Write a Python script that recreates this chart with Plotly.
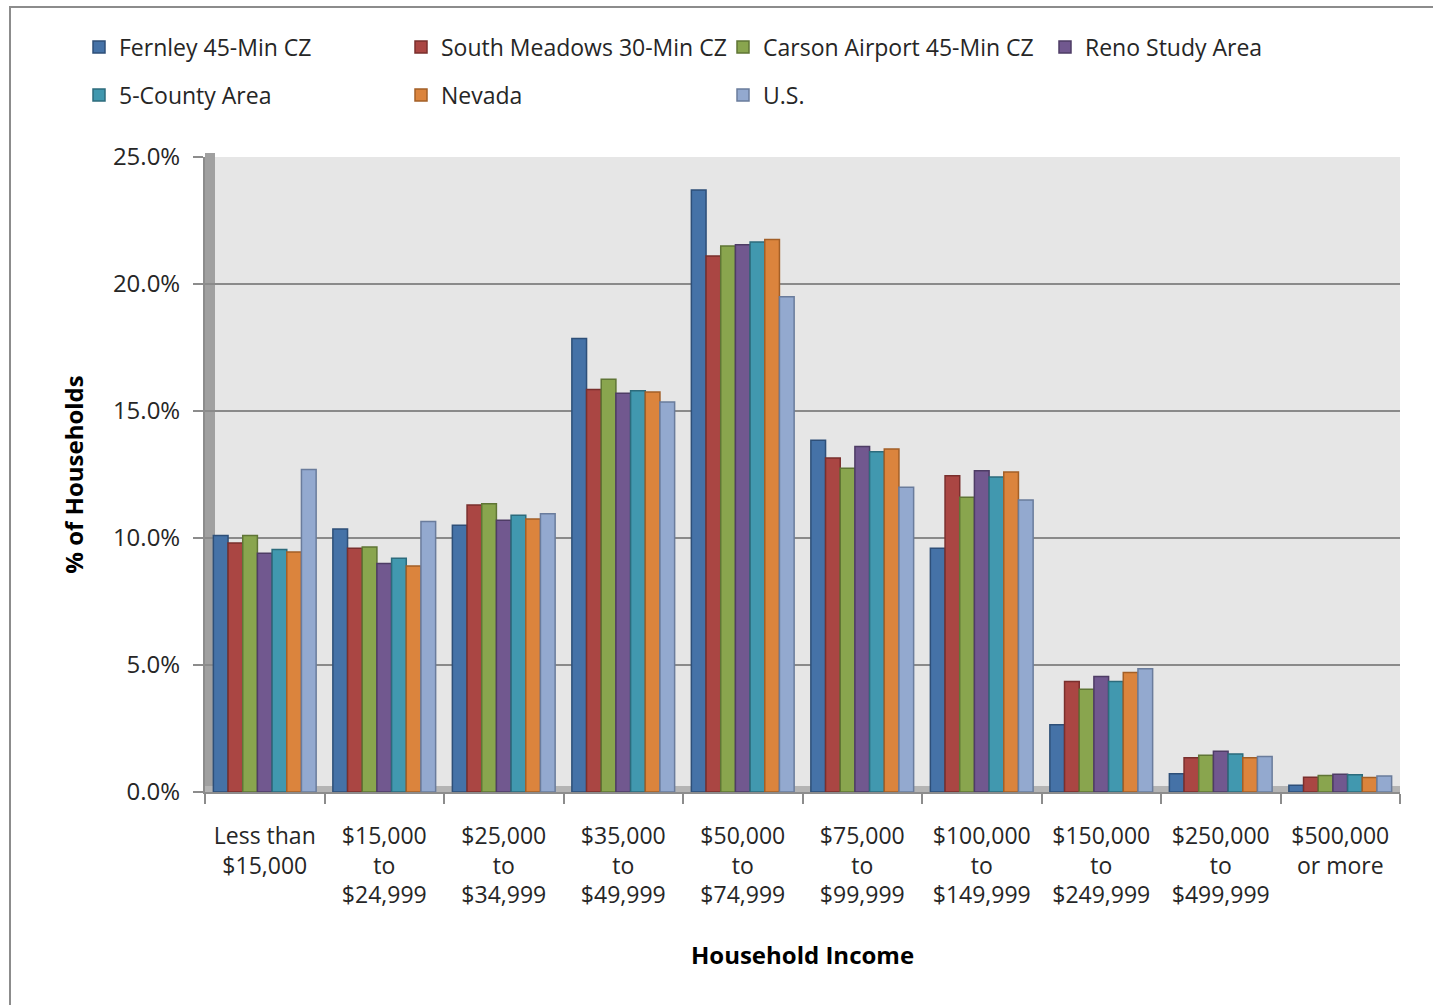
import plotly.graph_objects as go

categories = ["Less than<br>$15,000", "$15,000<br>to<br>$24,999", "$25,000<br>to<br>$34,999",
              "$35,000<br>to<br>$49,999", "$50,000<br>to<br>$74,999", "$75,000<br>to<br>$99,999",
              "$100,000<br>to<br>$149,999", "$150,000<br>to<br>$249,999", "$250,000<br>to<br>$499,999",
              "$500,000<br>or more"]

fernley = [10.1, 10.35, 10.5, 17.85, 23.7, 13.85, 9.6, 2.65, 0.72, 0.27]
south_meadows = [9.8, 9.6, 11.3, 15.85, 21.1, 13.15, 12.45, 4.35, 1.35, 0.58]
carson = [10.1, 9.65, 11.35, 16.25, 21.5, 12.75, 11.6, 4.05, 1.45, 0.65]
reno = [9.4, 9.0, 10.7, 15.7, 21.55, 13.6, 12.65, 4.55, 1.6, 0.7]
five_county = [9.55, 9.2, 10.9, 15.8, 21.65, 13.4, 12.4, 4.35, 1.5, 0.68]
nevada = [9.45, 8.9, 10.75, 15.75, 21.75, 13.5, 12.6, 4.7, 1.35, 0.57]
us = [12.7, 10.65, 10.95, 15.35, 19.5, 12.0, 11.5, 4.85, 1.4, 0.63]

series_names = ["Fernley 45-Min CZ", "South Meadows 30-Min CZ", "Carson Airport 45-Min CZ",
                "Reno Study Area", "5-County Area", "Nevada", "U.S."]
series_values = [fernley, south_meadows, carson, reno, five_county, nevada, us]
series_colors = ["#4572A7", "#AA4643", "#89A54E", "#71588F", "#4198AF", "#DB843D", "#93A9CF"]
series_edges = ["#2E4F78", "#7A2F2D", "#5F7535", "#4E3C65", "#2C6B7C", "#A35F27", "#6A7C9C"]
series_legend = ["legend", "legend", "legend", "legend3", "legend2", "legend2", "legend2"]

FONT = "Open Sans"
TXT = "#262626"

fig = go.Figure()
for name, vals, col, edge, lg in zip(series_names, series_values, series_colors, series_edges, series_legend):
    fig.add_trace(go.Bar(
        name=name, x=categories, y=vals,
        marker=dict(color=col, line=dict(color=edge, width=1.5)),
        legend=lg,
    ))

L, R, T, B = 205, 1400, 157, 792
W, H = 1433, 1005
pw, ph = R - L, B - T

def px(x):
    return (x - L) / pw

def py(y):
    return (B - y) / ph

shapes = [
    # outer border
    dict(type="rect", xref="paper", yref="paper", x0=px(10), x1=px(1445), y0=py(1015), y1=py(7),
         line=dict(color="#8C8C8C", width=2), fillcolor="rgba(0,0,0,0)", layer="below"),
    # left side wall
    dict(type="rect", xref="paper", yref="paper", x0=0, x1=px(215), y0=py(794), y1=py(153),
         line=dict(width=0), fillcolor="#A0A0A0", layer="below"),
    # floor
    dict(type="rect", xref="paper", yref="paper", x0=0, x1=1, y0=0, y1=py(786),
         line=dict(width=0), fillcolor="#B4B4B4", layer="below"),
]

legend_common = dict(
    orientation="h", xref="container", yref="container", xanchor="left", yanchor="middle",
    entrywidth=277, entrywidthmode="pixels", font=dict(family=FONT, size=23, color=TXT),
    bgcolor="rgba(0,0,0,0)", itemclick=False, traceorder="normal",
)

fig.update_layout(
    width=W, height=H,
    margin=dict(l=L, r=W - R, t=T, b=H - B, autoexpand=False),
    paper_bgcolor="white", plot_bgcolor="#E6E6E6",
    barmode="group", bargap=0.14, bargroupgap=0.0,
    font=dict(family=FONT, size=23, color=TXT),
    showlegend=True,
    legend=dict(x=79 / W, y=1 - 47 / H, **legend_common),
    legend2=dict(x=79 / W, y=1 - 95 / H, **legend_common),
    legend3=dict(x=1045 / W, y=1 - 47 / H, **legend_common),
    shapes=shapes,
    xaxis=dict(
        showgrid=False, showline=True, linecolor="#8C8C8C", linewidth=2,
        ticks="outside", tickson="boundaries", ticklen=10, tickcolor="#8C8C8C", tickwidth=2,
        tickfont=dict(family=FONT, size=23, color=TXT), ticklabelstandoff=22,
        title=dict(text="<b>Household Income</b>", font=dict(family=FONT, size=24, color="black"), standoff=38),
        automargin=False,
    ),
    yaxis=dict(
        range=[0, 25], dtick=5, tickformat=".1f", ticksuffix="%",
        showgrid=True, gridcolor="#8A8A8A", gridwidth=2,
        showline=True, linecolor="#8C8C8C", linewidth=2,
        ticks="outside", ticklen=10, tickcolor="#8C8C8C", tickwidth=2,
        tickfont=dict(family=FONT, size=24, color=TXT), ticklabelstandoff=8,
        title=dict(text="<b>% of Households</b>", font=dict(family=FONT, size=24, color="black"), standoff=22),
        automargin=False, zeroline=False,
    ),
)

fig.write_html("out.html")
